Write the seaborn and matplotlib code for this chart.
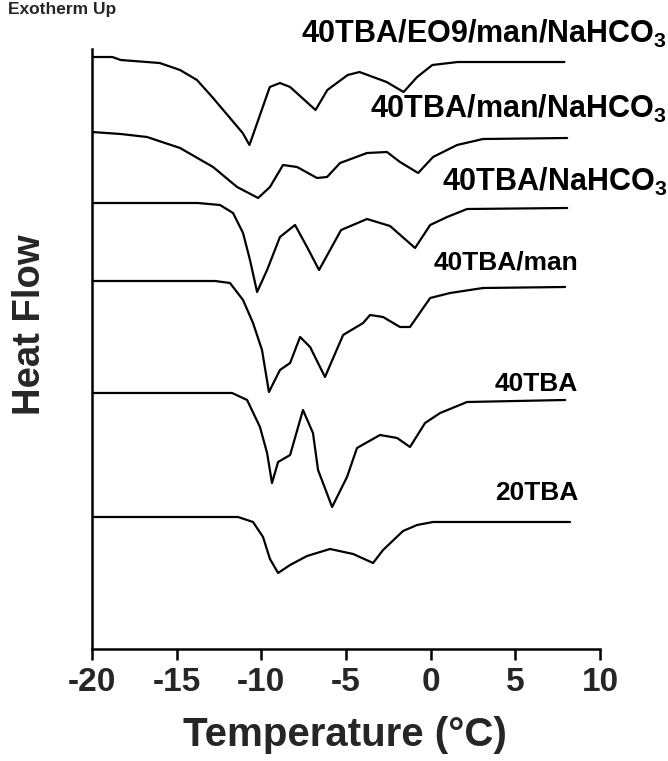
import matplotlib
matplotlib.use("Agg")
import matplotlib.pyplot as plt
import seaborn as sns
import pandas as pd

# DSC traces: temperature (°C) and stacked heat-flow signal (arbitrary units, exotherm up)
t_eo9 = [-20.0, -18.8, -18.3, -16.0, -14.8, -13.8, -12.9, -11.9, -11.1, -10.7, -9.5, -8.9,
         -8.3, -6.8, -6.1, -4.9, -4.2, -2.6, -1.6, -0.8, 0.1, 1.6, 7.9]
h_eo9 = [59.2, 59.2, 58.9, 58.6, 57.9, 56.9, 55.2, 53.2, 51.6, 50.4, 56.2, 56.6,
         56.2, 53.9, 55.9, 57.4, 57.7, 56.7, 55.7, 57.2, 58.4, 58.7, 58.7]

t_man_nahco3 = [-20.0, -18.3, -16.75, -14.8, -12.85, -11.43, -10.19, -9.49, -8.72, -7.89,
                -6.71, -6.12, -5.35, -3.76, -2.58, -1.81, -0.74, 0.14, 1.56, 3.09, 8.06]
h_man_nahco3 = [51.7, 51.5, 51.2, 50.1, 48.2, 46.2, 45.1, 46.2, 48.4, 48.2,
                47.1, 47.2, 48.6, 49.6, 49.7, 48.7, 47.6, 49.2, 50.4, 51.0, 51.1]

t_nahco3 = [-20.0, -13.74, -12.44, -11.67, -11.08, -10.67, -10.25, -9.66, -8.90, -8.01,
            -7.30, -6.59, -5.94, -5.29, -3.76, -2.40, -0.92, -0.03, 0.97, 2.15, 8.06]
h_nahco3 = [44.6, 44.6, 44.4, 43.6, 41.6, 38.9, 35.7, 37.9, 41.2, 42.4,
            40.2, 37.9, 39.9, 41.9, 43.0, 42.3, 40.1, 42.4, 43.2, 44.0, 44.1]

t_man = [-20.0, -12.73, -11.85, -11.08, -10.49, -9.96, -9.55, -8.90, -8.30, -7.71, -7.12,
         -6.24, -5.17, -3.99, -3.58, -2.81, -1.81, -1.22, -0.03, 1.15, 3.09, 7.94]
h_man = [36.8, 36.8, 36.6, 34.9, 32.6, 29.9, 25.7, 27.9, 28.6, 31.2, 30.2,
         27.2, 31.4, 32.6, 33.4, 33.2, 32.2, 32.2, 35.1, 35.6, 36.1, 36.2]

t_40 = [-20.0, -11.73, -10.84, -10.08, -9.66, -9.37, -9.01, -8.30, -7.54, -6.95, -6.65,
        -5.82, -4.94, -4.35, -2.99, -1.98, -1.22, -0.33, 0.56, 2.15, 7.94]
h_40 = [25.6, 25.6, 24.9, 22.2, 19.6, 16.6, 18.7, 19.4, 23.9, 21.6, 17.9,
        14.2, 17.2, 20.1, 21.4, 21.1, 20.2, 22.6, 23.6, 24.7, 24.9]

t_20 = [-20.0, -11.38, -10.49, -9.90, -9.49, -9.01, -8.30, -7.30, -5.94, -4.58, -3.40,
        -2.81, -1.63, -0.80, 0.14, 8.23]
h_20 = [13.2, 13.2, 12.7, 11.2, 9.0, 7.6, 8.4, 9.3, 10.0, 9.5, 8.6,
        9.9, 11.8, 12.4, 12.7, 12.7]

names = ["40TBA/EO9/man/NaHCO$_3$", "40TBA/man/NaHCO$_3$", "40TBA/NaHCO$_3$",
         "40TBA/man", "40TBA", "20TBA"]
temps = [t_eo9, t_man_nahco3, t_nahco3, t_man, t_40, t_20]
flows = [h_eo9, h_man_nahco3, h_nahco3, h_man, h_40, h_20]
# label anchor (right edge temperature, baseline heat flow) and size
label_t = [13.95, 13.95, 13.95, 8.7, 8.7, 8.7]
label_h = [60.6, 53.1, 45.8, 37.9, 25.8, 14.9]
label_size = [22, 22, 22, 19, 19, 19]

xticks = [-20, -15, -10, -5, 0, 5, 10]

frames = []
for n, t, h in zip(names, temps, flows):
    frames.append(pd.DataFrame({"Temperature": t, "HeatFlow": h, "sample": n}))
df = pd.concat(frames, ignore_index=True)

sns.set_style("ticks")
plt.rcParams["font.family"] = ["Liberation Sans", "DejaVu Sans"]
plt.rcParams["font.weight"] = "bold"
plt.rcParams["mathtext.fontset"] = "custom"
plt.rcParams["mathtext.rm"] = "Liberation Sans:bold"
plt.rcParams["mathtext.it"] = "Liberation Sans:bold"
plt.rcParams["mathtext.bf"] = "Liberation Sans:bold"
plt.rcParams["mathtext.default"] = "rm"

fig = plt.figure(figsize=(6.68, 7.61), dpi=100)
ax = fig.add_axes([0.1377, 0.1472, 0.7605, 0.7884])

sns.lineplot(data=df, x="Temperature", y="HeatFlow", units="sample", estimator=None,
             sort=False, color="black", linewidth=1.6, ax=ax, legend=False)

for n, lt, lh, fs in zip(names, label_t, label_h, label_size):
    ax.text(lt, lh, n, ha="right", va="baseline", fontsize=fs, fontweight="bold",
            color="black", clip_on=False)

ax.set_xlim(-20, 10)
ax.set_ylim(0, 60)
ax.set_xticks(xticks)
ax.set_xticklabels([str(v) for v in xticks])
ax.set_yticks([])
sns.despine(ax=ax)
for side in ("left", "bottom"):
    ax.spines[side].set_linewidth(1.8)
    ax.spines[side].set_color("black")
ax.tick_params(axis="x", length=8, width=1.8, color="black", labelsize=24, pad=5)
for lbl in ax.get_xticklabels():
    lbl.set_fontweight("bold")

ax.set_xlabel("")
ax.set_ylabel("")
fig.text(0.516, 0.034, "Temperature (°C)", fontsize=29, fontweight="bold",
         ha="center", va="center")
fig.text(0.045, 0.573, "Heat Flow", fontsize=27.5, fontweight="bold",
         ha="center", va="center", rotation=90)

fig.text(0.012, 0.987, "Exotherm Up", fontsize=12.5, fontweight="bold", ha="left", va="center")

fig.savefig("out.png", dpi=100)
